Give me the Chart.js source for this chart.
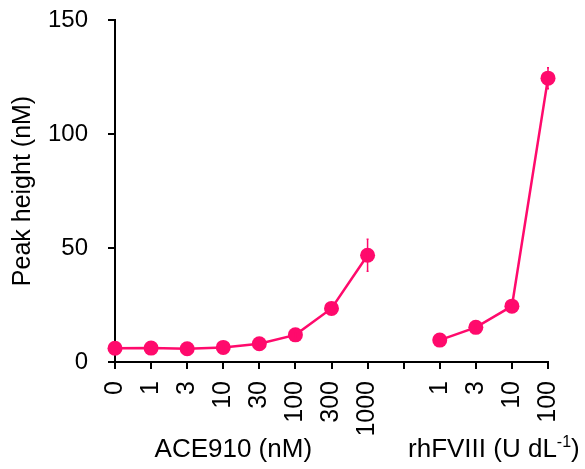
<!DOCTYPE html>
<html>
<head>
<meta charset="utf-8">
<script src="https://cdn.jsdelivr.net/npm/chart.js@4/dist/chart.umd.min.js"></script>
<style>
  html, body { margin: 0; padding: 0; background: #fff; }
  #wrap { width: 585px; height: 469px; }
</style>
</head>
<body>
<div id="wrap"><canvas id="peakChart"></canvas></div>
<script>
// categories (blank slot separates the two groups)
const categories = ['0', '1', '3', '10', '30', '100', '300', '1000', '', '1', '3', '10', '100'];

// peak height (nM)
const ace910Values = [6.0, 6.1, 5.8, 6.4, 8.0, 11.9, 23.5, 46.8, null, null, null, null, null];
const ace910Err    = [0.5, 0.5, 0.5, 0.5, 0.6, 0.8, 1.5, 7.0, null, null, null, null, null];
const fviiiValues  = [null, null, null, null, null, null, null, null, null, 9.6, 15.2, 24.5, 124.5];
const fviiiErr     = [null, null, null, null, null, null, null, null, null, 0.6, 0.8, 1.0, 4.6];

const yTicks = [0, 50, 100, 150];

const pink = '#ff0a6c';
const FONT = 'Liberation Sans, Arial, sans-serif';

// vertical error bars drawn through the y scale
const errorBars = {
    id: 'errorBars',
    afterDatasetsDraw(chart) {
        const ctx = chart.ctx;
        const y = chart.scales.y;
        chart.data.datasets.forEach((ds, i) => {
            const meta = chart.getDatasetMeta(i);
            meta.data.forEach((pt, j) => {
                const v = ds.data[j], e = ds.errors[j];
                if (v == null || !e) return;
                const top = y.getPixelForValue(v + e);
                const bot = y.getPixelForValue(v - e);
                ctx.save();
                ctx.strokeStyle = pink;
                ctx.lineWidth = 1.5;
                ctx.beginPath();
                ctx.moveTo(pt.x, top); ctx.lineTo(pt.x, bot);
                ctx.moveTo(pt.x - 1, top); ctx.lineTo(pt.x + 1, top);
                ctx.moveTo(pt.x - 1, bot); ctx.lineTo(pt.x + 1, bot);
                ctx.stroke();
                ctx.restore();
            });
        });
    }
};

// group titles under the x axis
const groupTitles = {
    id: 'groupTitles',
    afterDraw(chart) {
        const ctx = chart.ctx;
        const x = chart.scales.x;
        const base = chart.chartArea.bottom + 95;
        ctx.save();
        ctx.fillStyle = '#000';
        ctx.textBaseline = 'alphabetic';

        // ACE910
        ctx.font = '26px ' + FONT;
        ctx.textAlign = 'center';
        const c1 = (x.getPixelForValue(0) + x.getPixelForValue(7)) / 2 - 8;
        ctx.fillText('ACE910 (nM)', c1, base);

        // rhFVIII with superscript
        const c2 = (x.getPixelForValue(9) + x.getPixelForValue(12)) / 2;
        const partA = 'rhFVIII (U dL', sup = '-1', partB = ')';
        ctx.font = '26px ' + FONT;
        const wA = ctx.measureText(partA).width;
        const wB = ctx.measureText(partB).width;
        ctx.font = '16px ' + FONT;
        const wS = ctx.measureText(sup).width;
        let sx = c2 - (wA + wS + wB) / 2;
        ctx.textAlign = 'left';
        ctx.font = '26px ' + FONT;
        ctx.fillText(partA, sx, base);
        sx += wA;
        ctx.font = '16px ' + FONT;
        ctx.fillText(sup, sx, base - 10);
        sx += wS;
        ctx.font = '26px ' + FONT;
        ctx.fillText(partB, sx, base);
        ctx.restore();
    }
};

const ctx = document.getElementById('peakChart').getContext('2d');
new Chart(ctx, {
    type: 'line',
    data: {
        labels: categories,
        datasets: [
            {
                label: 'ACE910',
                data: ace910Values,
                errors: ace910Err,
                borderColor: pink,
                backgroundColor: pink,
                borderWidth: 2.5,
                pointRadius: 7.5,
                pointHoverRadius: 7.5,
                pointBorderWidth: 0,
                spanGaps: false,
                clip: false
            },
            {
                label: 'rhFVIII',
                data: fviiiValues,
                errors: fviiiErr,
                borderColor: pink,
                backgroundColor: pink,
                borderWidth: 2.5,
                pointRadius: 7.5,
                pointHoverRadius: 7.5,
                pointBorderWidth: 0,
                spanGaps: false,
                clip: false
            }
        ]
    },
    options: {
        responsive: true,
        maintainAspectRatio: false,
        animation: false,
        events: [],
        layout: { padding: { top: 20, right: 37, left: 0, bottom: 0 } },
        plugins: {
            legend: { display: false },
            tooltip: { enabled: false }
        },
        scales: {
            x: {
                offset: false,
                grid: { drawOnChartArea: false, drawTicks: true, tickLength: 7, color: '#000', lineWidth: 2 },
                border: { color: '#000', width: 2 },
                ticks: {
                    color: '#000',
                    font: { family: FONT, size: 25 },
                    minRotation: 90,
                    maxRotation: 90,
                    autoSkip: false,
                    padding: 12
                },
                afterFit(scale) {
                    scale.height = 107;
                    scale.paddingLeft = 0;
                    scale.paddingRight = 0;
                }
            },
            y: {
                min: 0,
                max: 150,
                afterBuildTicks(scale) { scale.ticks = yTicks.map(v => ({ value: v })); },
                grid: { drawOnChartArea: false, drawTicks: true, tickLength: 7, color: '#000', lineWidth: 2 },
                border: { color: '#000', width: 2 },
                ticks: {
                    color: '#000',
                    font: { family: FONT, size: 24 },
                    padding: 20
                },
                title: {
                    display: true,
                    text: 'Peak height (nM)',
                    color: '#000',
                    font: { family: FONT, size: 25 },
                    padding: { top: 8, bottom: 0 }
                },
                afterFit(scale) {
                    scale.width = 115;
                    scale.paddingTop = 0;
                    scale.paddingBottom = 0;
                }
            }
        }
    },
    plugins: [errorBars, groupTitles]
});
</script>
</body>
</html>
